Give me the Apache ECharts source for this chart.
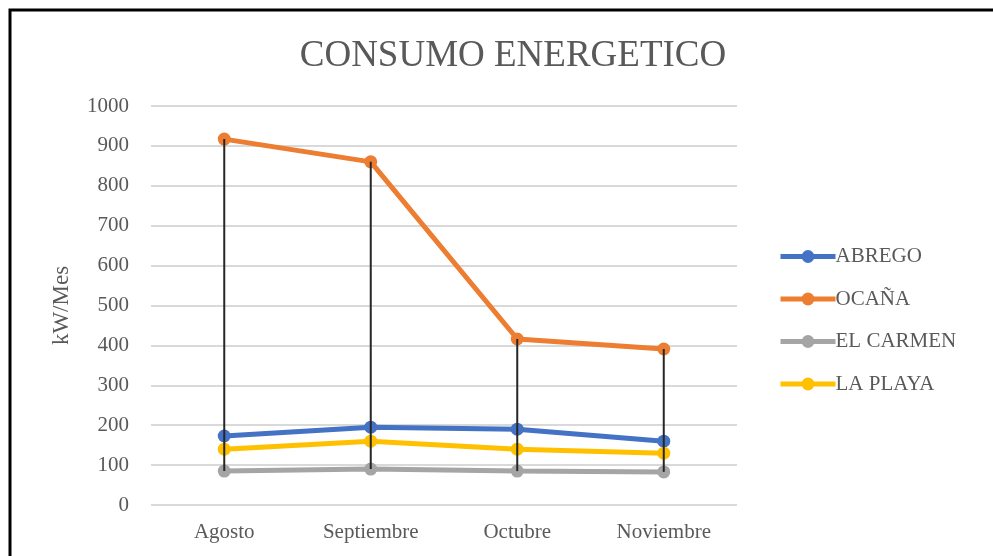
<!DOCTYPE html>
<html>
<head>
<meta charset="utf-8">
<script src="https://cdn.jsdelivr.net/npm/echarts@6/dist/echarts.min.js"></script>
<style>
  html, body { margin: 0; padding: 0; background: #ffffff; }
  #chart { width: 993px; height: 556px; }
</style>
</head>
<body>
<div id="chart"></div>
<script>
// Monthly energy consumption per site (kW/Mes)
const months = ['Agosto', 'Septiembre', 'Octubre', 'Noviembre'];
const abrego = [173, 195, 190, 160];
const ocana = [917, 860, 416, 391];
const elCarmen = [85, 90, 85, 83];
const laPlaya = [140, 160, 140, 130];
const yTicks = [0, 100, 200, 300, 400, 500, 600, 700, 800, 900, 1000];

const allSeries = [abrego, ocana, elCarmen, laPlaya];
// High-low lines: from the highest to the lowest value in each month
const highLow = months.map((m, i) => {
  const vals = allSeries.map(s => s[i]);
  return [i, Math.max(...vals), Math.min(...vals)];
});

const serif = '"Liberation Serif", "Times New Roman", serif';
const textColor = '#595959';

const chart = echarts.init(document.getElementById('chart'));

function lineSeries(name, data, color) {
  return {
    name: name,
    type: 'line',
    data: data,
    symbol: 'circle',
    symbolSize: 13,
    lineStyle: { color: color, width: 5 },
    itemStyle: { color: color },
    z: 3
  };
}

chart.setOption({
  animation: false,
  backgroundColor: '#ffffff',
  title: {
    text: 'CONSUMO ENERGETICO',
    left: 508,
    textAlign: 'center',
    top: 33,
    textStyle: { fontFamily: serif, fontSize: 37, fontWeight: 'normal', color: textColor }
  },
  legend: {
    orient: 'vertical',
    left: 778,
    top: 246,
    padding: 0,
    itemWidth: 55,
    itemHeight: 16,
    itemGap: 21.5,
    lineStyle: { width: 5 },
    textStyle: { fontFamily: serif, fontSize: 21, color: textColor, padding: [0, 0, 0, -5] },
    data: ['ABREGO', 'OCAÑA', 'EL CARMEN', 'LA PLAYA']
  },
  grid: { left: 151, right: 256, top: 106, bottom: 51 },
  xAxis: {
    type: 'category',
    data: months,
    boundaryGap: true,
    axisLine: { show: false },
    axisTick: { show: false },
    axisLabel: { fontFamily: serif, fontSize: 21, color: textColor, margin: 17 }
  },
  yAxis: {
    type: 'value',
    min: yTicks[0],
    max: yTicks[yTicks.length - 1],
    interval: 100,
    name: 'kW/Mes',
    nameLocation: 'middle',
    nameGap: 78,
    nameTextStyle: { fontFamily: serif, fontSize: 23, color: textColor },
    axisLine: { show: false },
    axisTick: { show: false },
    axisLabel: {
      fontFamily: serif, fontSize: 21, color: textColor, margin: 22,
      formatter: v => String(v)
    },
    splitLine: { lineStyle: { color: '#d9d9d9', width: 2 } }
  },
  series: [
    {
      name: 'highlow',
      type: 'custom',
      data: highLow,
      z: 4,
      silent: true,
      renderItem: function (params, api) {
        const top = api.coord([api.value(0), api.value(1)]);
        const bottom = api.coord([api.value(0), api.value(2)]);
        return {
          type: 'line',
          shape: { x1: top[0], y1: top[1], x2: bottom[0], y2: bottom[1] },
          style: { stroke: '#262626', lineWidth: 2 }
        };
      }
    },
    lineSeries('ABREGO', abrego, '#4472c4'),
    lineSeries('OCAÑA', ocana, '#ed7d31'),
    lineSeries('EL CARMEN', elCarmen, '#a5a5a5'),
    lineSeries('LA PLAYA', laPlaya, '#ffc000')
  ],
  graphic: [
    {
      type: 'polyline',
      shape: { points: [[10, 556], [10, 10], [993, 10]] },
      style: { stroke: '#000000', lineWidth: 3, fill: null }
    }
  ]
});
</script>
</body>
</html>
